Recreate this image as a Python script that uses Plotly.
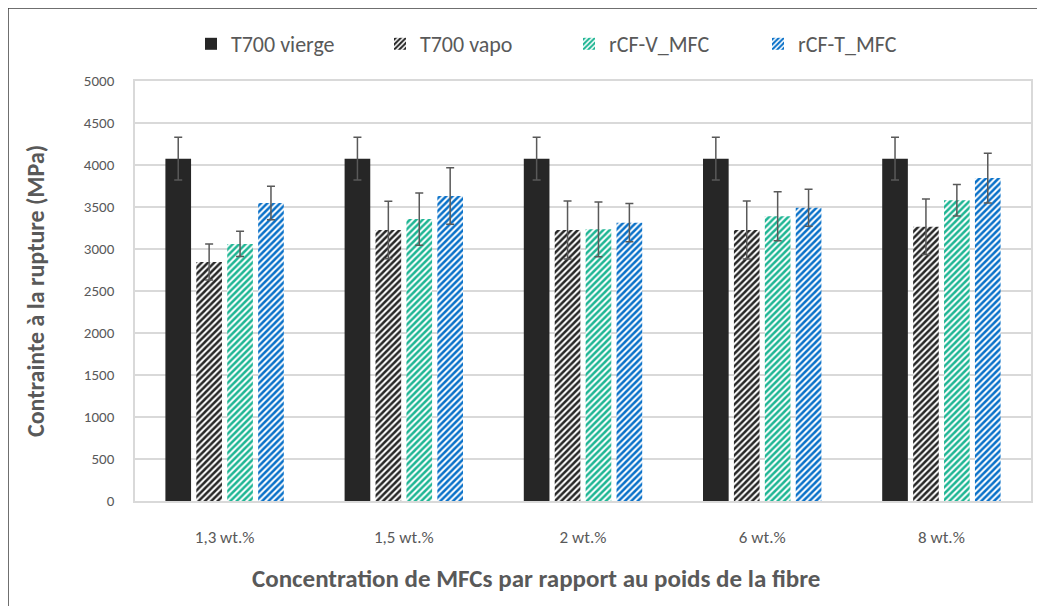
import plotly.graph_objects as go

categories = ["1,3 wt.%", "1,5 wt.%", "2 wt.%", "6 wt.%", "8 wt.%"]
series_names = ["T700 vierge", "T700 vapo", "rCF-V_MFC", "rCF-T_MFC"]
t700_vierge = [4075, 4075, 4075, 4075, 4075]
t700_vierge_err = [255, 255, 255, 255, 255]
t700_vapo = [2845, 3226, 3226, 3226, 3266]
t700_vapo_err = [215, 342, 345, 345, 330]
rcf_v = [3060, 3357, 3234, 3389, 3580]
rcf_v_err = [150, 311, 327, 292, 187]
rcf_t = [3547, 3631, 3313, 3492, 3844]
rcf_t_err = [200, 337, 228, 220, 295]
y_ticks = [0, 500, 1000, 1500, 2000, 2500, 3000, 3500, 4000, 4500, 5000]

FONT = "Carlito, Lato, sans-serif"
GRAY = "#595959"

values = [t700_vierge, t700_vapo, rcf_v, rcf_t]
errors = [t700_vierge_err, t700_vapo_err, rcf_v_err, rcf_t_err]
colors = ["#262626", "#262626", "#1DB593", "#0870C8"]
patterns = ["", "/", "/", "/"]

fig = go.Figure()
for name, vals, errs, col, pat in zip(series_names, values, errors, colors, patterns):
    if pat:
        marker = dict(color="white",
                      pattern=dict(shape=pat, fgcolor=col, bgcolor="white", size=4.5, solidity=0.55,
                                   fgopacity=1, fillmode="replace"),
                      line=dict(width=0))
    else:
        marker = dict(color=col, line=dict(width=0))
    fig.add_trace(go.Bar(
        name=name, x=categories, y=vals, marker=marker,
        error_y=dict(type="data", array=errs, visible=True, color=GRAY, thickness=1.5, width=4),
    ))

# page body has an 8px offset; positions below are screen pixels
OFF = 8
W, H = 1045, 606
PL, PR, PT, PB = 135, 1031, 81, 501  # plot area in screen pixels
L, T = PL - OFF, PT - OFF
R, B = W - (PR - OFF), H - (PB - OFF)
pw, ph = PR - PL, PB - PT


def px(xs):
    return (xs - PL) / pw


def py(ys):
    return (PB - ys) / ph


fig.update_layout(
    width=W, height=H,
    margin=dict(l=L, r=R, t=T, b=B, pad=0, autoexpand=False),
    paper_bgcolor="white", plot_bgcolor="white",
    barmode="group", bargap=0.31, bargroupgap=0.17,
    font=dict(family=FONT, color=GRAY),
    showlegend=True,
    legend=dict(orientation="h", x=px(191), xanchor="left", y=py(44), yanchor="middle",
                font=dict(size=22, color=GRAY, family=FONT), itemwidth=30, traceorder="normal",
                entrywidth=144, entrywidthmode="pixels"),
    xaxis=dict(showgrid=False, showline=True, linecolor="#D9D9D9", linewidth=1.5, mirror=True, automargin=False,
               ticks="", tickfont=dict(size=17, color=GRAY, family=FONT), ticklabelstandoff=20),
    yaxis=dict(range=[0, 5000], tickvals=y_ticks, showgrid=True, gridcolor="#D9D9D9", gridwidth=1.5,
               showline=True, linecolor="#D9D9D9", linewidth=1.5, mirror=True, zeroline=False, automargin=False,
               ticks="", tickfont=dict(size=15, color=GRAY, family=FONT), ticklabelstandoff=16),
    annotations=[
        dict(text="<b>Concentration de MFCs par rapport au poids de la fibre</b>", xref="paper", yref="paper",
             x=px(536), y=py(578), xanchor="center", yanchor="middle", showarrow=False,
             font=dict(size=25, color=GRAY, family=FONT)),
        dict(text="<b>Contrainte à la rupture (MPa)</b>", xref="paper", yref="paper",
             x=px(35), y=py(291), xanchor="center", yanchor="middle", showarrow=False,
             textangle=-90, font=dict(size=24, color=GRAY, family=FONT)),
    ],
    shapes=[
        dict(type="rect", xref="paper", yref="paper",
             x0=px(8), x1=px(1070), y0=py(630), y1=py(8),
             line=dict(color="#404040", width=1.5), fillcolor="rgba(0,0,0,0)", layer="below"),
    ],
)

fig.write_html("out.html")
